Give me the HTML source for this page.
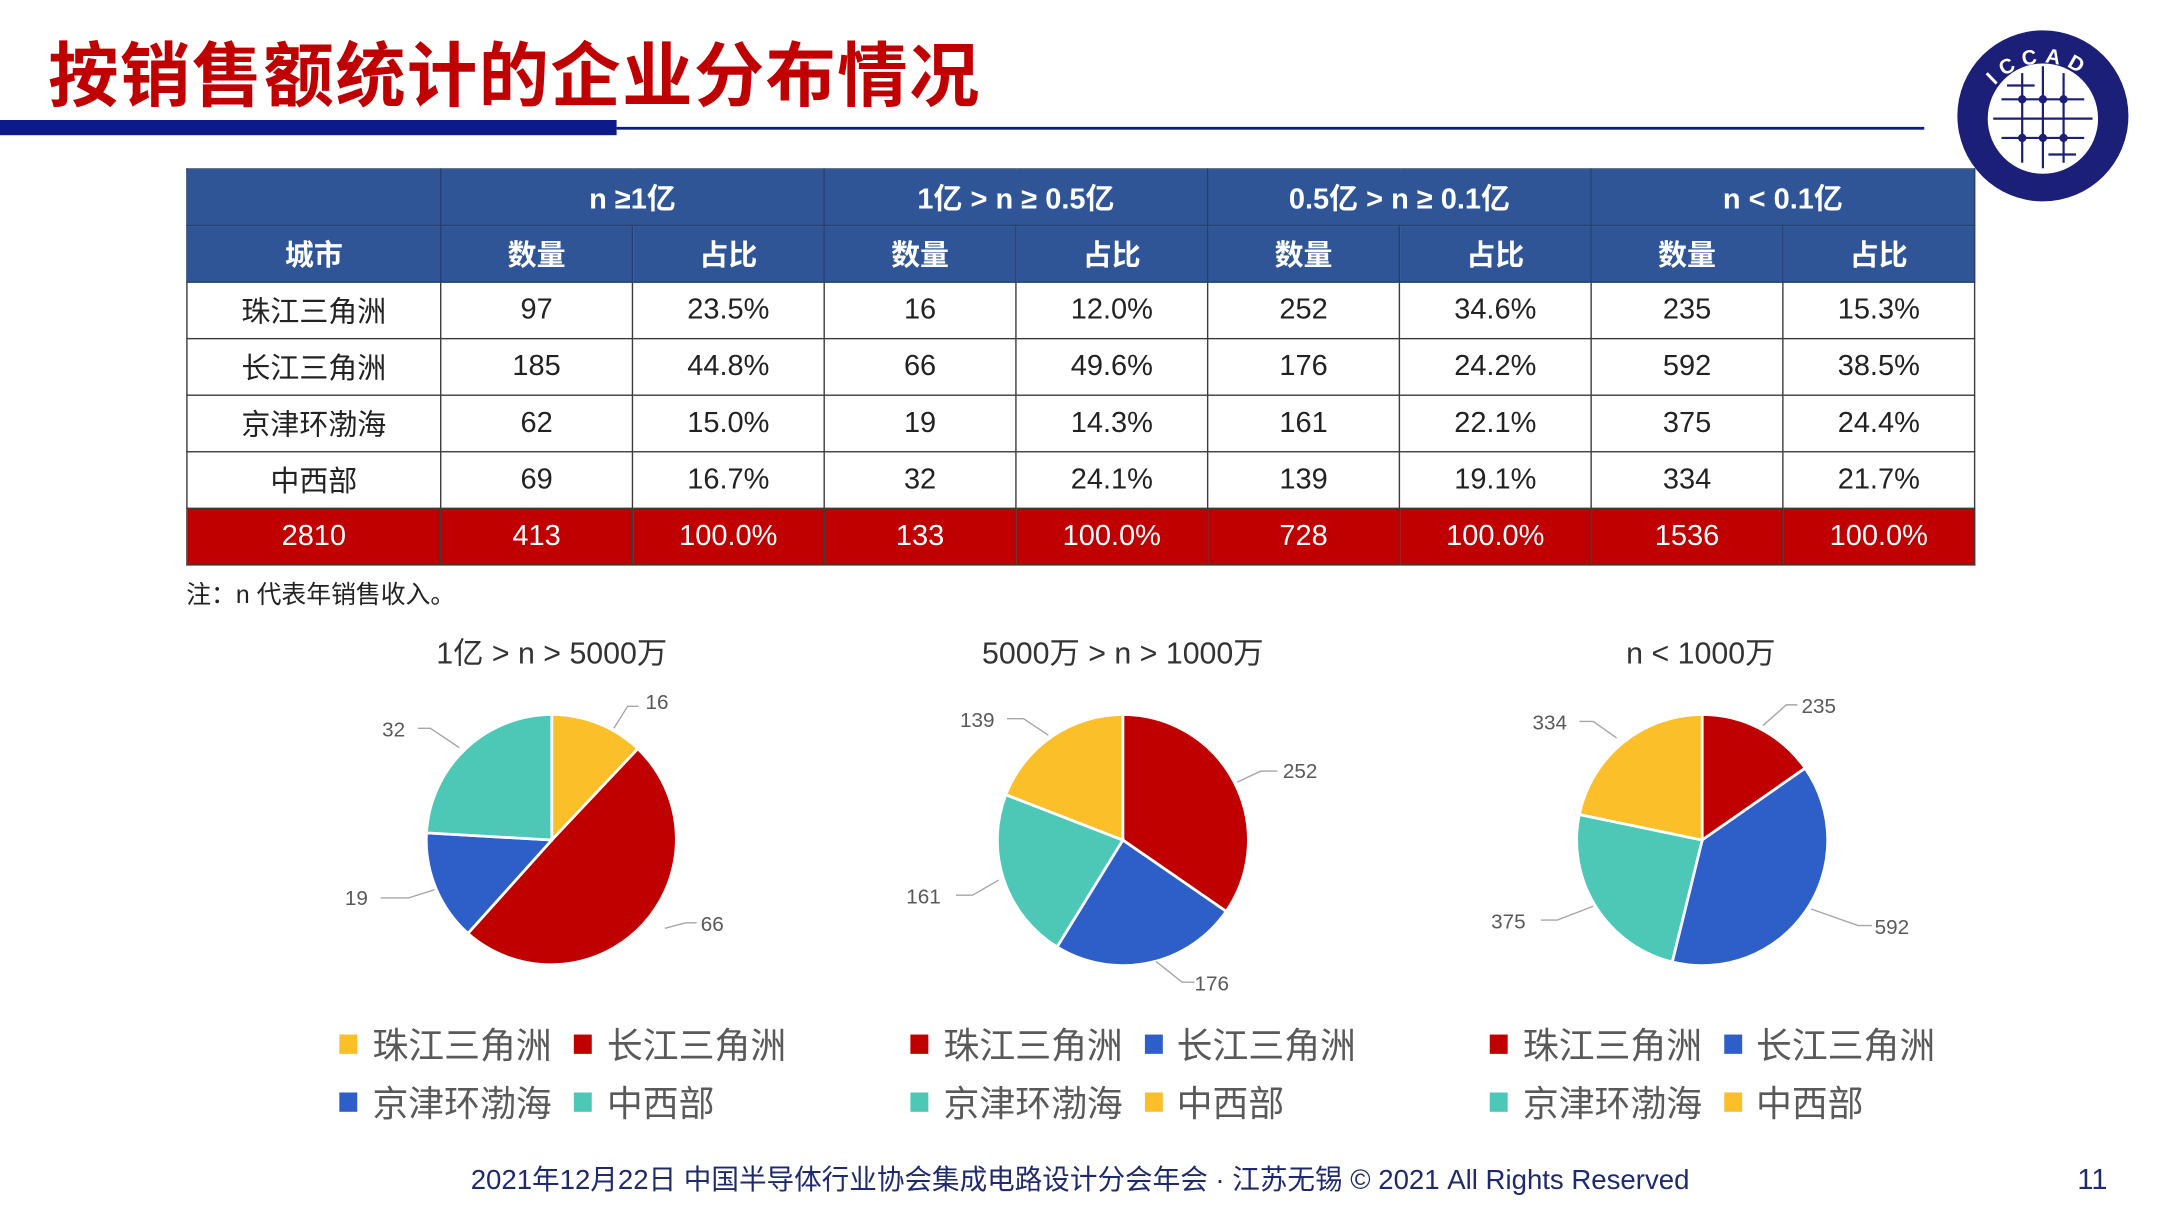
<!DOCTYPE html>
<html><head><meta charset="utf-8"><style>
html,body{margin:0;padding:0;background:#fff;width:2160px;height:1216px;overflow:hidden}
#w{position:absolute;left:0;top:0;width:1566px;height:882px;transform:scale(1.3794);transform-origin:0 0;font-family:"Liberation Sans","Noto Sans CJK SC",sans-serif}
.t{position:absolute;white-space:nowrap}
table{position:absolute;left:135px;top:122px;width:1296px;border-collapse:collapse;table-layout:fixed}
td{border:1.5px solid #3a3a3a;height:40px;padding:0;text-align:center;font-size:21px;color:#222}
tr.h td{background:#2f5597;color:#fff;font-weight:bold;border-color:#24406f}
tr.tot td{background:#c00000;color:#fff}
</style></head><body><div id="w">
<div class="t" style="left:35px;top:14px;font-size:51px;font-weight:bold;color:#c00000;letter-spacing:1px">按销售额统计的企业分布情况</div>
<div class="t" style="left:0;top:87px;width:447px;height:11px;background:#0d1a8a"></div>
<div class="t" style="left:447px;top:92px;width:948px;height:2px;background:#0d1a8a"></div>
<svg class="t" style="left:1413px;top:18px" width="140" height="135" viewBox="0 0 140 135">
<defs><path id="arc" d="M22,70 A47,47 0 0 1 114,62"/></defs>
<circle cx="68" cy="66" r="62" fill="#1b1f78"/>
<circle cx="68" cy="68" r="40" fill="#fff"/>
<g stroke="#1b1f78" stroke-width="1.6" fill="none">
<path d="M38 54H98M32 68H104M38 82H98M53 35V100M68 30V104M83 35V100M42 44H62M72 94H92"/>
</g>
<g fill="#1b1f78"><circle cx="53" cy="54" r="3"/><circle cx="68" cy="54" r="3"/><circle cx="83" cy="54" r="3"/><circle cx="53" cy="82" r="3"/><circle cx="68" cy="82" r="3"/><circle cx="83" cy="82" r="3"/></g>
<text font-size="15" font-weight="bold" fill="#fff" letter-spacing="5" font-family="Liberation Sans"><textPath href="#arc" startOffset="22%">ICCAD</textPath></text>
</svg>
<table>
<colgroup><col style="width:184px"><col style="width:139px"><col style="width:139px"><col style="width:139px"><col style="width:139px"><col style="width:139px"><col style="width:139px"><col style="width:139px"><col style="width:139px"></colgroup>
<tr class="h"><td></td><td colspan="2">n ≥1亿</td><td colspan="2">1亿 &gt; n ≥ 0.5亿</td><td colspan="2">0.5亿 &gt; n ≥ 0.1亿</td><td colspan="2">n &lt; 0.1亿</td></tr>
<tr class="h"><td>城市</td><td>数量</td><td>占比</td><td>数量</td><td>占比</td><td>数量</td><td>占比</td><td>数量</td><td>占比</td></tr>
<tr><td>珠江三角洲</td><td>97</td><td>23.5%</td><td>16</td><td>12.0%</td><td>252</td><td>34.6%</td><td>235</td><td>15.3%</td></tr>
<tr><td>长江三角洲</td><td>185</td><td>44.8%</td><td>66</td><td>49.6%</td><td>176</td><td>24.2%</td><td>592</td><td>38.5%</td></tr>
<tr><td>京津环渤海</td><td>62</td><td>15.0%</td><td>19</td><td>14.3%</td><td>161</td><td>22.1%</td><td>375</td><td>24.4%</td></tr>
<tr><td>中西部</td><td>69</td><td>16.7%</td><td>32</td><td>24.1%</td><td>139</td><td>19.1%</td><td>334</td><td>21.7%</td></tr>
<tr class="tot"><td>2810</td><td>413</td><td>100.0%</td><td>133</td><td>100.0%</td><td>728</td><td>100.0%</td><td>1536</td><td>100.0%</td></tr>
</table>
<div class="t" style="left:135px;top:417px;font-size:18px;color:#222">注：n 代表年销售收入。</div>
<svg class="t" style="left:0;top:0" width="1566" height="882" viewBox="0 0 1566 882" font-family="Liberation Sans,Noto Sans CJK SC,sans-serif">
<g font-size="22" fill="#333" text-anchor="middle">
<text x="400" y="481">1亿 &gt; n &gt; 5000万</text>
<text x="814" y="481">5000万 &gt; n &gt; 1000万</text>
<text x="1233" y="481">n &lt; 1000万</text>
</g>
<g stroke="#fff" stroke-width="2">
<path d="M400,609L400,518A91,91 0 0 1 462.4,542.8Z" fill="#fbbf2a"/>
<path d="M400,609L462.4,542.8A91,91 0 0 1 339.2,676.7Z" fill="#c00000"/>
<path d="M400,609L339.2,676.7A91,91 0 0 1 309.2,603.8Z" fill="#2e5fc8"/>
<path d="M400,609L309.2,603.8A91,91 0 0 1 400,518Z" fill="#4dc7b6"/>
<path d="M814,609L814,518A91,91 0 0 1 888.9,660.7Z" fill="#c00000"/>
<path d="M814,609L888.9,660.7A91,91 0 0 1 766.3,686.5Z" fill="#2e5fc8"/>
<path d="M814,609L766.3,686.5A91,91 0 0 1 729.2,576.1Z" fill="#4dc7b6"/>
<path d="M814,609L729.2,576.1A91,91 0 0 1 814,518Z" fill="#fbbf2a"/>
<path d="M1234,609L1234,518A91,91 0 0 1 1308.6,556.9Z" fill="#c00000"/>
<path d="M1234,609L1308.6,556.9A91,91 0 0 1 1212.3,697.4Z" fill="#2e5fc8"/>
<path d="M1234,609L1212.3,697.4A91,91 0 0 1 1144.9,590.5Z" fill="#4dc7b6"/>
<path d="M1234,609L1144.9,590.5A91,91 0 0 1 1234,518Z" fill="#fbbf2a"/>
</g>
<g stroke="#a6a6a6" stroke-width="1" fill="none">
<path d="M445,528L455,512H463"/><path d="M303,528H312L333,542"/><path d="M276,651H296L315,645"/><path d="M482,673L497,669H505"/>
<path d="M730,521H742L760,533"/><path d="M926,559H914L897,567"/><path d="M693,649H705L724,638"/><path d="M866,712H857L838,697"/>
<path d="M1145,523H1155L1172,535"/><path d="M1303,511H1295L1278,526"/><path d="M1117,667H1129L1155,657"/><path d="M1357,671H1347L1313,659"/>
</g>
<g font-size="15" fill="#595959">
<text x="468" y="514">16</text><text x="277" y="534">32</text><text x="250" y="656">19</text><text x="508" y="675">66</text>
<text x="696" y="527">139</text><text x="930" y="564">252</text><text x="657" y="655">161</text><text x="866" y="718">176</text>
<text x="1111" y="529">334</text><text x="1306" y="517">235</text><text x="1081" y="673">375</text><text x="1359" y="677">592</text>
</g>
<g>
<rect x="246" y="750" width="13" height="14" fill="#fbbf2a"/><rect x="416" y="750" width="13" height="14" fill="#c00000"/>
<rect x="246" y="792" width="13" height="14" fill="#2e5fc8"/><rect x="416" y="792" width="13" height="14" fill="#4dc7b6"/>
<rect x="660" y="750" width="13" height="14" fill="#c00000"/><rect x="830" y="750" width="13" height="14" fill="#2e5fc8"/>
<rect x="660" y="792" width="13" height="14" fill="#4dc7b6"/><rect x="830" y="792" width="13" height="14" fill="#fbbf2a"/>
<rect x="1080" y="750" width="13" height="14" fill="#c00000"/><rect x="1250" y="750" width="13" height="14" fill="#2e5fc8"/>
<rect x="1080" y="792" width="13" height="14" fill="#4dc7b6"/><rect x="1250" y="792" width="13" height="14" fill="#fbbf2a"/>
</g>
<g font-size="26" fill="#595959">
<text x="270" y="767">珠江三角洲</text><text x="440" y="767">长江三角洲</text><text x="270" y="809">京津环渤海</text><text x="440" y="809">中西部</text>
<text x="684" y="767">珠江三角洲</text><text x="853" y="767">长江三角洲</text><text x="684" y="809">京津环渤海</text><text x="853" y="809">中西部</text>
<text x="1104" y="767">珠江三角洲</text><text x="1273" y="767">长江三角洲</text><text x="1104" y="809">京津环渤海</text><text x="1273" y="809">中西部</text>
</g>
<text x="783" y="862" font-size="20" fill="#1f2a6e" text-anchor="middle">2021年12月22日 中国半导体行业协会集成电路设计分会年会 · 江苏无锡 © 2021 All Rights Reserved</text>
<text x="1506" y="862" font-size="21" fill="#1f2a6e">11</text>
</svg>
</div></body></html>
